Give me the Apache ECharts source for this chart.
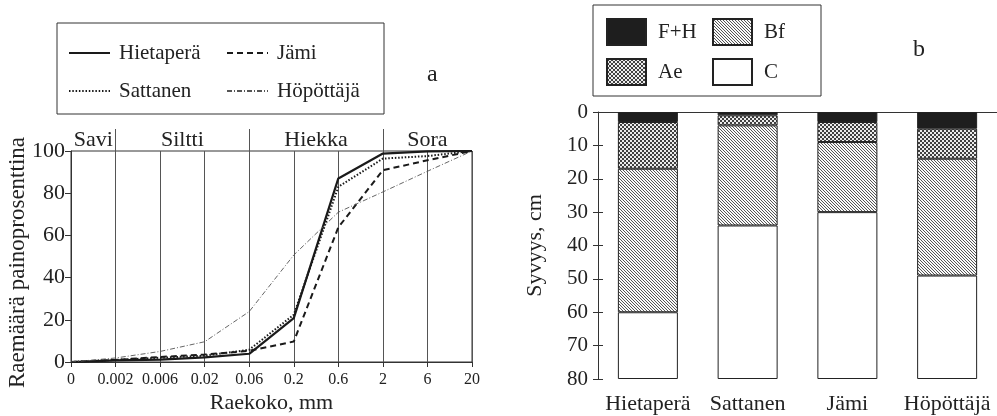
<!DOCTYPE html>
<html>
<head>
<meta charset="utf-8">
<script src="https://cdn.jsdelivr.net/npm/echarts@6/dist/echarts.min.js"></script>
<style>
  html, body { margin: 0; padding: 0; background: #fff; }
  #chart { width: 997px; height: 416px; }
</style>
</head>
<body>
<div id="chart"></div>
<script>
// Grain-size classes (mm) on the x axis of panel a
const grainSizes = ['0', '0.002', '0.006', '0.02', '0.06', '0.2', '0.6', '2', '6', '20'];

// Cumulative mass percentage passing each size
const hietaperaCurve = [0, 0.8, 1.1, 2.2, 3.9, 20.8, 87, 98.8, 99.8, 100];
const sattanenCurve  = [0, 1, 2, 3, 5.8, 22.4, 83, 96.4, 97.6, 100];
const jamiCurve      = [0, 1, 2.4, 3.5, 5.3, 9.7, 63.8, 90.9, 95.6, 100];
const hopottajaCurve = [0, 1.9, 5, 9.6, 23.9, 50.7, 71, 80.6, 90.4, 100];

// Texture classes and their size limits
const zoneNames = ['Savi', 'Siltti', 'Hiekka', 'Sora'];
const zoneLimits = ['0', '0.002', '0.06', '2', '20'];

// Panel b: soil profiles, horizon thicknesses in cm from the surface down
const sites = ['Hietaperä', 'Sattanen', 'Jämi', 'Höpöttäjä'];
const horizonFH = [3, 1, 3, 5];
const horizonAe = [14, 3, 6, 9];
const horizonBf = [43, 30, 21, 35];
const horizonC  = [20, 46, 50, 31];

const FONT = "'Liberation Serif', 'DejaVu Serif', serif";
const INK = '#222';

// Fill textures for the horizons
function checkerPattern() {
  const c = document.createElement('canvas');
  c.width = 4; c.height = 4;
  const g = c.getContext('2d');
  g.fillStyle = '#ececec'; g.fillRect(0, 0, 4, 4);
  g.fillStyle = '#404040';
  g.fillRect(0, 0, 2, 2); g.fillRect(2, 2, 2, 2);
  return { image: c, repeat: 'repeat' };
}
function hatchPattern() {
  const c = document.createElement('canvas');
  c.width = 3; c.height = 3;
  const g = c.getContext('2d');
  g.fillStyle = '#fafafa'; g.fillRect(0, 0, 3, 3);
  g.fillStyle = '#555';
  for (let i = 0; i < 3; i++) g.fillRect(i, i, 1, 1);
  return { image: c, repeat: 'repeat' };
}

const chart = echarts.init(document.getElementById('chart'), null, { renderer: 'canvas' });

const zoneAreas = zoneNames.map((n, i) => [{ xAxis: zoneLimits[i], name: n }, { xAxis: zoneLimits[i + 1] }]);
const zoneLines = zoneLimits.slice(1, -1).map(v => ({ xAxis: v }));

function curve(name, data, lineStyle) {
  return {
    name, type: 'line', xAxisIndex: 0, yAxisIndex: 0, data,
    symbol: 'none', lineStyle, itemStyle: { color: lineStyle.color }, z: 3
  };
}

function horizon(name, data, color) {
  return {
    name, type: 'bar', stack: 'depth', xAxisIndex: 2, yAxisIndex: 2,
    data, barWidth: 60,
    itemStyle: { color, borderColor: INK, borderWidth: 1 }
  };
}

chart.setOption({
  animation: false,
  backgroundColor: '#fff',
  textStyle: { fontFamily: FONT, color: INK },
  title: [
    { text: 'a', left: 422, top: 58, textStyle: { fontFamily: FONT, fontSize: 24, fontWeight: 'normal', color: INK } },
    { text: 'b', left: 908, top: 33, textStyle: { fontFamily: FONT, fontSize: 24, fontWeight: 'normal', color: INK } }
  ],
  legend: [
    {
      data: ['Hietaperä', 'Jämi', 'Sattanen', 'Höpöttäjä'],
      left: 57, top: 23, width: 310,
      orient: 'horizontal',
      padding: [17, 12, 10, 11],
      borderColor: '#333', borderWidth: 1,
      itemWidth: 41, itemHeight: 12, itemGap: 12,
      itemStyle: { color: 'rgba(0,0,0,0)', borderWidth: 0, opacity: 0 },
      textStyle: { fontFamily: FONT, fontSize: 21, color: INK, width: 95, lineHeight: 26, padding: [0, 0, 0, 4] }
    },
    {
      data: ['F+H', 'Bf', 'Ae', 'C'],
      left: 593, top: 5, width: 210,
      orient: 'horizontal',
      icon: 'rect',
      padding: [13, 15, 10, 13],
      borderColor: '#333', borderWidth: 1,
      itemWidth: 39, itemHeight: 26, itemGap: 12,
      textStyle: { fontFamily: FONT, fontSize: 21, color: INK, width: 42, lineHeight: 26, padding: [0, 0, 0, 7] }
    }
  ],
  grid: [
    { left: 71, top: 151, width: 401, height: 211, show: true, borderColor: '#333', borderWidth: 1, backgroundColor: 'transparent', outerBoundsMode: 'none', containLabel: false },
    { left: 71, top: 129, width: 401, height: 22, outerBoundsMode: 'none', containLabel: false },
    { left: 598, top: 112, width: 399, height: 267, outerBoundsMode: 'none', containLabel: false }
  ],
  xAxis: [
    {
      gridIndex: 0, type: 'category', data: grainSizes, boundaryGap: false,
      name: 'Raekoko, mm', nameLocation: 'middle', nameGap: 30, nameMoveOverlap: false,
      nameTextStyle: { fontFamily: FONT, fontSize: 22, color: INK },
      axisLine: { lineStyle: { color: '#333', width: 1 } },
      axisTick: { show: true, length: 5, lineStyle: { color: '#333' } },
      axisLabel: { fontFamily: FONT, fontSize: 16, color: INK, margin: 10, interval: 0 },
      splitLine: { show: true, lineStyle: { color: '#555', width: 1 } }
    },
    { gridIndex: 1, type: 'category', data: grainSizes, boundaryGap: false, show: false },
    {
      gridIndex: 2, type: 'category', data: sites,
      axisLine: { lineStyle: { color: '#333', width: 1 } },
      axisTick: { show: false },
      axisLabel: { fontFamily: FONT, fontSize: 22, color: INK, margin: 14, interval: 0 }
    }
  ],
  yAxis: [
    {
      gridIndex: 0, type: 'value', min: 0, max: 100, interval: 20,
      name: 'Raemäärä painoprosenttina', nameLocation: 'middle', nameGap: 42, nameRotate: 90, nameMoveOverlap: false,
      nameTextStyle: { fontFamily: FONT, fontSize: 23, color: INK, padding: [0, 12, 0, 0] },
      axisLine: { show: true, lineStyle: { color: '#333', width: 1 } },
      axisTick: { show: true, length: 6, lineStyle: { color: '#333' } },
      axisLabel: { fontFamily: FONT, fontSize: 22, color: INK, margin: 6 },
      splitLine: { show: false }
    },
    { gridIndex: 1, type: 'value', min: 0, max: 1, show: false },
    {
      gridIndex: 2, type: 'value', inverse: true, min: 0, max: 80, interval: 10,
      name: 'Syvyys, cm', nameLocation: 'middle', nameGap: 52, nameRotate: 90, nameMoveOverlap: false,
      nameTextStyle: { fontFamily: FONT, fontSize: 22, color: INK },
      axisLine: { show: true, lineStyle: { color: '#333', width: 1 } },
      axisTick: { show: true, length: 5, lineStyle: { color: '#333' } },
      axisLabel: { fontFamily: FONT, fontSize: 21, color: INK, margin: 10 },
      splitLine: { show: false }
    },
    {
      gridIndex: 2, type: 'value', inverse: true, min: 0, max: 80, interval: 10,
      position: 'left', offset: 0,
      axisLine: { show: false },
      axisTick: { show: true, inside: true, length: 5, lineStyle: { color: '#333' } },
      axisLabel: { show: false },
      splitLine: { show: false }
    }
  ],
  series: [
    curve('Hietaperä', hietaperaCurve, { color: '#1a1a1a', width: 2.2, type: 'solid' }),
    curve('Jämi', jamiCurve, { color: '#1a1a1a', width: 2, type: [6, 4] }),
    curve('Sattanen', sattanenCurve, { color: '#1a1a1a', width: 2, type: [1.5, 1.8] }),
    curve('Höpöttäjä', hopottajaCurve, { color: '#555', width: 0.9, type: [5, 2, 1, 2] }),
    {
      name: 'zones', type: 'line', xAxisIndex: 1, yAxisIndex: 1, data: [], silent: true,
      markLine: {
        silent: true, symbol: 'none', label: { show: false },
        lineStyle: { color: '#555', width: 1, type: 'solid' },
        data: zoneLines
      },
      markArea: {
        silent: true, itemStyle: { color: 'rgba(0,0,0,0)' },
        label: { show: true, position: 'inside', fontFamily: FONT, fontSize: 22, color: INK },
        data: zoneAreas
      }
    },
    horizon('F+H', horizonFH, '#1e1e1e'),
    horizon('Ae', horizonAe, checkerPattern()),
    horizon('Bf', horizonBf, hatchPattern()),
    horizon('C', horizonC, '#fff')
  ]
});
</script>
</body>
</html>
